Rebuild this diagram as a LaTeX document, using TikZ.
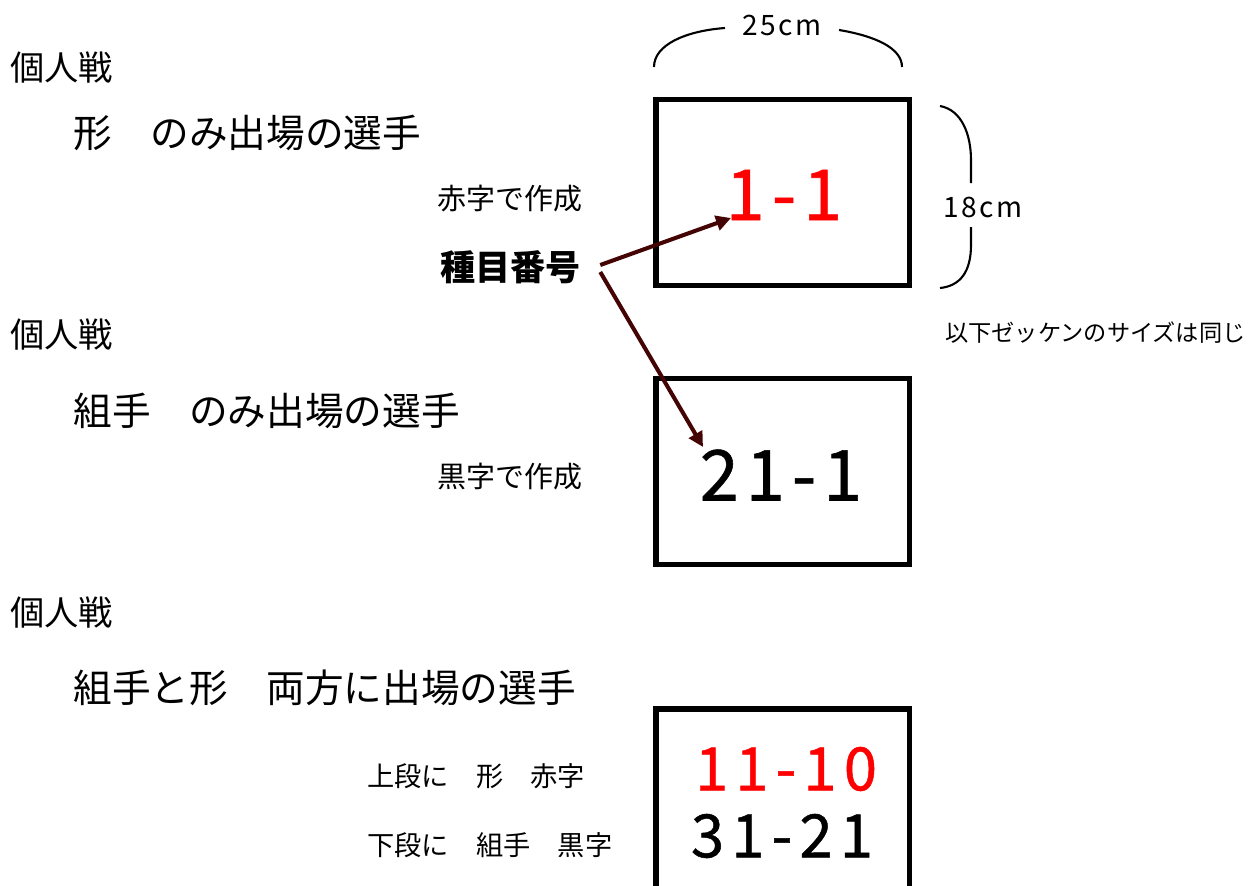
\documentclass[tikz,border=0pt]{standalone}
\usepackage{fontspec}
\setmainfont{Noto Sans CJK JP}
\usetikzlibrary{arrows.meta}
\definecolor{darkmaroon}{RGB}{68,4,4}

\begin{document}
\begin{tikzpicture}[x=0.02cm,y=-0.02cm,
        head/.style={anchor=west,inner sep=0pt,font=\fontsize{19.5}{22}\selectfont},
        title/.style={anchor=west,inner sep=0pt,font=\fontsize{22}{26}\selectfont},
        note/.style={anchor=west,inner sep=0pt,font=\fontsize{15.5}{18}\selectfont},
        card/.style={draw,line width=3.1pt,minimum width=5.07cm,minimum height=3.72cm,inner sep=0pt},
        bignum/.style={inner sep=0pt,font=\fontsize{40}{44}\selectfont\addfontfeature{LetterSpace=10,FakeBold=0.8}},
        midnum/.style={inner sep=0pt,font=\fontsize{34}{38}\selectfont\addfontfeature{LetterSpace=12,FakeBold=0.8}},
        size/.style={inner sep=0pt,font=\fontsize{16}{19}\selectfont\addfontfeature{LetterSpace=8}},
        brace/.style={line width=1.2pt},
        pointer/.style={line width=2.3pt,darkmaroon,-{Triangle[length=8.5pt,width=8.5pt]}}]

        \useasboundingbox (0,0) rectangle (1259,886);
        \clip (0,0) rectangle (1259,886);

        % Nodes (left headings)
        \node[head] (H1) at (10, 68) {個人戦};
        \node[title] (T1) at (73, 133) {形　のみ出場の選手};
        \node[head] (H2) at (10, 335) {個人戦};
        \node[title] (T2) at (73, 411) {組手　のみ出場の選手};
        \node[head] (H3) at (10, 613) {個人戦};
        \node[title] (T3) at (73, 688) {組手と形　両方に出場の選手};

        % Nodes (notes)
        \node[note,font=\fontsize{16.5}{19}\selectfont] (Red) at (437, 199) {赤字で作成};
        \node[note,font=\fontsize{20}{23}\selectfont\bfseries] (Bango) at (440, 267) {種目番号};
        \node[note,font=\fontsize{16.5}{19}\selectfont] (Black) at (437, 477) {黒字で作成};
        \node[note] (Upper) at (367, 776) {上段に　形　赤字};
        \node[note] (Lower) at (367, 845) {下段に　組手　黒字};
        \node[note,font=\fontsize{13.2}{16}\selectfont] (Same) at (945, 333) {以下ゼッケンのサイズは同じ};

        % Nodes (cards)
        \node[card] (Card1) at (782.75, 192.5) {};
        \node[card] (Card2) at (782.75, 471.5) {};
        \node[card] (Card3) at (782.75, 802) {};

        % Nodes (numbers)
        \node[bignum,red] (Num1) at (784, 195) {1-1};
        \node[bignum] (Num2) at (781, 475) {21-1};
        \node[midnum,red] (Num3) at (786, 769) {11-10};
        \node[midnum] (Num4) at (782, 836) {31-21};

        % Nodes (sizes)
        \node[size] (Width) at (782, 25) {25cm};
        \node[size] (Height) at (983, 207) {18cm};

        % Brace ends
        \coordinate (WL) at (654, 67);
        \coordinate (WLt) at (725, 28);
        \coordinate (WRt) at (839, 30);
        \coordinate (WR) at (902, 67);
        \coordinate (HT) at (940, 106);
        \coordinate (HTb) at (971, 183);
        \coordinate (HBt) at (971, 227);
        \coordinate (HB) at (940, 288);

        % Arrow ends
        \coordinate (Tip1) at (731, 218);
        \coordinate (Tip2) at (703, 447);

        % Braces
        \draw[brace] (WL) .. controls (654, 45) and (685, 31) .. (WLt);
        \draw[brace] (WRt) .. controls (875, 36) and (902, 48) .. (WR);
        \draw[brace] (HT) .. controls (962, 110) and (971, 135) .. (971, 160) -- (HTb);
        \draw[brace] (HBt) -- (971, 245) .. controls (971, 272) and (960, 286) .. (HB);

        % Arrows
        \draw[pointer] ([xshift=0.38cm,yshift=0.04cm]Bango.east) -- (Tip1);
        \draw[pointer] ([xshift=0.38cm,yshift=-0.1cm]Bango.east) -- (Tip2);

    \end{tikzpicture}
\end{document}
